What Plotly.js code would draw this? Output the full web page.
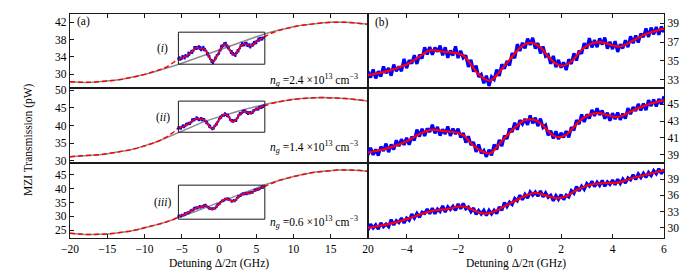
<!DOCTYPE html>
<html><head><meta charset="utf-8">
<script src="https://cdn.plot.ly/plotly-3.0.1.min.js"></script>
<style>html,body{margin:0;padding:0;background:#fff}</style>
</head><body><div id="plot" style="width:700px;height:280px"></div>
<script>
// ---- detuning grids (GHz) ----
const detWide = [-20,-19,-18,-17,-16,-15,-14,-13,-12,-11,-10,-9,-8,-7,-6,-5,-4,-3,-2,-1,0,1,2,3,4,5,6,7,8,9,10,11,12,13,14,15,16,17,18,19,20];
const detDash = [-20,-19,-18,-17,-16,-15,-14,-13,-12,-11,-10,-9,-8,-7,-6,-5.5,null,6,7,8,9,10,11,12,13,14,15,16,17,18,19,20];
const detFit = [-5.5,-5.25,-5,-4.75,-4.5,-4.25,-4,-3.75,-3.5,-3.25,-3,-2.75,-2.5,-2.25,-2,-1.75,-1.5,-1.25,-1,-0.75,-0.5,-0.25,0,0.25,0.5,0.75,1,1.25,1.5,1.75,2,2.25,2.5,2.75,3,3.25,3.5,3.75,4,4.25,4.5,4.75,5,5.25,5.5,5.75,6];
const detData = [-5.5,-5.4,-5.3,-5.2,-5.1,-5,-4.9,-4.8,-4.7,-4.6,-4.5,-4.4,-4.3,-4.2,-4.1,-4,-3.9,-3.8,-3.7,-3.6,-3.5,-3.4,-3.3,-3.2,-3.1,-3,-2.9,-2.8,-2.7,-2.6,-2.5,-2.4,-2.3,-2.2,-2.1,-2,-1.9,-1.8,-1.7,-1.6,-1.5,-1.4,-1.3,-1.2,-1.1,-1,-0.9,-0.8,-0.7,-0.6,-0.5,-0.4,-0.3,-0.2,-0.1,0,0.1,0.2,0.3,0.4,0.5,0.6,0.7,0.8,0.9,1,1.1,1.2,1.3,1.4,1.5,1.6,1.7,1.8,1.9,2,2.1,2.2,2.3,2.4,2.5,2.6,2.7,2.8,2.9,3,3.1,3.2,3.3,3.4,3.5,3.6,3.7,3.8,3.9,4,4.1,4.2,4.3,4.4,4.5,4.6,4.7,4.8,4.9,5,5.1,5.2,5.3,5.4,5.5,5.6,5.7,5.8,5.9,6];

// ---- background models (grey) ----
const grey1 = [28.22,28.13,28.1,28.13,28.22,28.37,28.57,28.83,29.14,29.5,29.91,30.37,30.86,31.39,31.95,32.54,33.15,33.77,34.41,35.05,35.69,36.33,36.95,37.56,38.15,38.71,39.24,39.73,40.19,40.6,40.96,41.27,41.53,41.73,41.88,41.97,42.0,41.97,41.88,41.73,41.53];
const grey2 = [31.2,31.3,31.4,31.55,31.75,32.0,32.3,32.65,33.1,33.6,34.2,34.9,35.7,36.6,37.6,38.6,39.5,40.3,41.1,41.8,42.5,43.1,43.7,44.3,44.9,45.4,45.9,46.35,46.75,47.1,47.4,47.6,47.78,47.88,47.9,47.85,47.75,47.6,47.4,47.15,46.9];
const grey3 = [23.9,23.65,23.5,23.45,23.5,23.65,23.9,24.24,24.67,25.2,25.81,26.5,27.26,28.09,28.98,29.92,30.91,31.93,32.98,34.05,35.13,36.2,37.27,38.32,39.34,40.33,41.27,42.16,42.99,43.74,44.44,45.05,45.58,46.02,46.35,46.6,46.75,46.8,46.75,46.6,46.35];

// ---- full fits (red dashed, outside the zoomed window) ----
const dash1 = [28.22,28.13,28.1,28.13,28.22,28.37,28.57,28.83,29.14,29.5,29.95,30.45,31.0,31.65,32.75,33.47,null,38.5,39.45,40.1,40.6,40.96,41.27,41.53,41.73,41.88,41.97,42.0,41.97,41.88,41.73,41.53];
const dash2 = [31.2,31.3,31.4,31.55,31.75,32.0,32.3,32.65,33.1,33.6,34.2,34.9,35.7,36.8,38.3,39.25,null,45.47,46.2,46.7,47.1,47.4,47.6,47.78,47.88,47.9,47.85,47.75,47.6,47.4,47.15,46.9];
const dash3 = [23.9,23.65,23.5,23.45,23.5,23.65,23.9,24.24,24.67,25.2,25.81,26.5,27.26,28.09,28.98,29.93,null,40.68,41.95,42.95,43.74,44.44,45.05,45.58,46.02,46.35,46.6,46.75,46.8,46.75,46.6,46.35];

// ---- fits over the zoomed window (red solid) ----
const fit1 = [33.47,33.6,33.73,33.9,34.1,34.35,34.62,35.0,35.45,35.95,36.15,36.05,35.95,35.9,35.8,35.45,34.6,33.7,33.1,32.88,33.45,34.3,35.1,35.95,36.62,36.92,36.8,36.3,35.45,34.8,34.47,34.65,35.2,36.05,36.6,36.9,37.0,36.85,36.65,36.52,36.7,37.1,37.45,37.8,38.05,38.25,38.44];
const fit2 = [39.25,39.4,39.55,39.75,40.0,40.28,40.6,41.02,41.45,41.8,41.97,41.9,41.78,41.72,41.6,41.2,40.35,39.7,39.3,39.15,39.9,40.8,41.6,42.35,42.95,43.2,43.1,42.6,41.8,41.2,41.1,41.5,42.3,43.1,43.6,43.9,43.95,43.75,43.55,43.5,43.8,44.2,44.55,44.85,45.1,45.3,45.47];
const fit3 = [29.93,30.15,30.38,30.6,30.88,31.2,31.58,31.98,32.4,32.8,33.1,33.28,33.4,33.6,33.92,33.88,33.45,32.95,32.6,32.75,33.2,33.85,34.45,35.05,35.7,36.2,36.45,36.2,35.85,35.55,35.55,35.95,36.7,37.35,37.8,38.1,38.25,38.32,38.35,38.42,38.8,39.2,39.5,39.8,40.1,40.4,40.68];

// ---- measured data (blue) ----
const data1 = [33.87,33.22,34.07,33.13,33.88,33.33,34.4,33.67,34.24,33.42,
34.6,33.9,34.4,33.9,35.21,34.22,35.07,34.72,35.59,34.67,
35.65,35.25,36.45,35.69,36.47,35.65,36.41,35.97,36.63,35.59,
36.45,35.33,36.11,35.58,36.54,35.3,36.06,35.32,35.58,34.34,
35.1,33.84,34.48,33.28,33.54,32.6,33.41,32.32,33.29,33.02,
34.05,33.39,34.63,34.16,34.98,34.5,35.84,35.28,36.78,36.05,
36.92,36.34,37.36,36.7,37.45,36.3,36.9,35.8,36.53,35.49,
35.65,34.69,35.53,34.33,35.1,34.27,34.84,34.01,35.16,34.68,
35.8,35.04,36.08,35.76,36.88,36.3,37.42,36.44,37.22,36.46,
37.4,36.74,37.48,36.31,37.03,36.25,37.1,35.95,36.76,36.33,
37.2,36.46,37.62,36.87,37.71,36.95,37.89,37.53,38.45,37.55,
38.55,37.83,38.61,37.79,38.66,38.04];
const data2 = [38.95,39.81,38.97,39.63,38.89,39.95,39.43,40.31,39.3,40.2,
39.6,40.71,40.02,40.84,40.17,41.0,40.17,41.14,40.71,41.98,
41.15,42.09,41.23,42.13,41.7,42.57,41.54,42.31,41.28,42.03,
41.48,42.36,41.23,42.1,41.45,42.1,41.04,41.58,40.43,41.19,
40.15,40.49,39.33,40.22,39.16,39.5,38.74,39.58,38.9,40.2,
39.6,40.76,40.02,41.26,40.88,42.1,41.7,42.8,41.97,43.11,
42.65,43.25,42.55,43.68,42.74,43.4,42.4,43.3,42.24,42.52,
41.3,41.86,40.92,41.78,40.84,41.6,41.06,41.82,41.06,42.28,
41.9,43.12,42.64,43.8,42.9,43.8,43.32,44.34,43.61,44.53,
43.75,44.27,43.29,44.01,43.03,43.95,43.23,44.01,43.16,43.88,
43.3,44.56,43.82,44.67,44.21,45.05,44.27,45.09,44.3,45.5,
44.8,45.58,44.76,45.64,45.01,45.97];
const data3 = [29.53,30.62,29.91,30.5,29.69,30.88,30.17,30.66,30.16,31.47,
30.48,31.31,30.94,31.78,30.83,31.78,31.34,32.5,31.76,32.63,
31.9,32.86,32.62,33.46,32.58,33.6,32.57,33.44,33.0,34.05,
32.9,33.88,33.36,33.96,33.19,34.42,33.5,34.49,33.49,33.82,
32.95,33.65,32.45,33.18,32.54,33.2,32.26,33.22,32.54,33.22,
32.6,33.86,33.22,34.67,33.91,34.75,34.29,35.43,34.98,36.04,
35.2,36.2,35.5,36.65,36.05,36.65,35.85,36.85,35.73,36.49,
35.65,36.03,35.01,35.95,35.25,36.15,35.21,36.07,35.7,36.9,
36.4,37.66,36.82,37.74,37.12,38.2,37.72,38.64,37.63,38.49,
37.85,38.78,37.71,38.53,38.04,38.85,37.98,39.01,38.2,39.05,
38.3,39.26,38.92,39.86,38.98,40.0,39.32,40.14,39.36,40.28,
39.7,40.62,40.04,40.96,40.07,40.88];

// ---- axis ranges, ticks, labels ----
const wideRange = [-20, 20];
const zoomRange = [-5.5, 6];
const wideTicks = [-20,-15,-10,-5,0,5,10,15,20];
const zoomTicks = [-4,-2,0,2,4,6];
const leftRanges = [[26.8,43.9],[29.4,50.6],[22.2,49.3]];
const rightRanges = [[32.1,40.0],[38.0,46.95],[28.05,42.05]];
const leftTicks = [[30,34,38,42],[30,35,40,45,50],[25,30,35,40,45]];
const rightTicks = [[33,35,37,39],[39,41,43,45],[30,33,36,39]];
const boxX = [-5.45, 6.15];
const boxY = [[32.3,39.7],[38.1,46.9],[29.0,41.3]];
const curveLabels = ['(<i>i</i>)','(<i>ii</i>)','(<i>iii</i>)'];
const densities = ['2.4','1.4','0.6'];
const panelLetters = ['(a)','(b)'];

const greys = [grey1, grey2, grey3];
const dashes = [dash1, dash2, dash3];
const fits = [fit1, fit2, fit3];
const datas = [data1, data2, data3];

const BLUE = '#0000ff', RED = '#ff0000', GREY = '#8c8c8c';
const traces = [];
const rowDomains = [[0.6696,1],[0.3348,0.6696],[0,0.3348]];
const split = 0.5017;
const layout = {
  width:700, height:280,
  margin:{l:70, r:36, t:14, b:42},
  paper_bgcolor:'#fff', plot_bgcolor:'#fff',
  showlegend:false,
  font:{family:'Liberation Serif, Times New Roman, serif', size:11.5, color:'#000'},
  annotations:[], shapes:[]
};

for (let r = 0; r < 3; r++) {
  const li = 2*r + 1, ri = 2*r + 2;
  const lx = 'x' + (li === 1 ? '' : li), ly = 'y' + (li === 1 ? '' : li);
  const rx = 'x' + ri, ry = 'y' + ri;
  // left: wide view
  traces.push({x:detWide, y:greys[r], xaxis:lx, yaxis:ly, mode:'lines', line:{color:GREY, width:1.5}, hoverinfo:'skip'});
  traces.push({x:detDash, y:dashes[r], xaxis:lx, yaxis:ly, mode:'lines', connectgaps:false, line:{color:RED, width:1.5, dash:'5px,3px'}, hoverinfo:'skip'});
  traces.push({x:detData, y:datas[r], xaxis:lx, yaxis:ly, mode:'lines', line:{color:BLUE, width:1.9}, hoverinfo:'skip'});
  traces.push({x:detFit, y:fits[r], xaxis:lx, yaxis:ly, mode:'lines', line:{color:RED, width:1.5, shape:'spline'}, hoverinfo:'skip'});
  // right: zoomed view
  traces.push({x:detData, y:datas[r], xaxis:rx, yaxis:ry, mode:'lines', line:{color:BLUE, width:3.2}, hoverinfo:'skip'});
  traces.push({x:detFit, y:fits[r], xaxis:rx, yaxis:ry, mode:'lines', line:{color:RED, width:2.2, shape:'spline'}, hoverinfo:'skip'});

  const common = {showgrid:false, zeroline:false, showline:true, linecolor:'#1a1a1a', linewidth:1.3,
                  mirror:true, ticks:'inside', ticklen:4, tickwidth:1, tickcolor:'#1a1a1a'};
  const bottom = (r === 2);
  layout[(li===1?'xaxis':'xaxis'+li)] = Object.assign({}, common, {
    domain:[0, split], range:wideRange, anchor:ly, tickmode:'array', tickvals:wideTicks,
    ticktext: wideTicks.map(v => v < 0 ? '\u2212' + Math.abs(v) : String(v)),
    side: r === 0 ? 'top' : 'bottom', showticklabels: bottom, ticks: (r === 1 ? '' : 'inside'),
    tickfont:{size:11.5}});
  layout[(li===1?'yaxis':'yaxis'+li)] = Object.assign({}, common, {
    domain:rowDomains[r], range:leftRanges[r], anchor:lx, tickmode:'array', tickvals:leftTicks[r],
    tickfont:{size:11.5}});
  layout['xaxis'+ri] = Object.assign({}, common, {
    domain:[split, 1], range:zoomRange, anchor:ry, tickmode:'array', tickvals:zoomTicks,
    ticktext: zoomTicks.map(v => v < 0 ? '\u2212' + Math.abs(v) : String(v)),
    side: r === 0 ? 'top' : 'bottom', showticklabels: bottom, ticks: (r === 1 ? '' : 'inside'),
    tickfont:{size:11.5}});
  layout['yaxis'+ri] = Object.assign({}, common, {
    domain:rowDomains[r], range:rightRanges[r], anchor:rx, side:'right', tickmode:'array', tickvals:rightTicks[r],
    tickfont:{size:11.5}});

  layout.shapes.push({type:'rect', xref:lx, yref:ly, x0:boxX[0], x1:boxX[1], y0:boxY[r][0], y1:boxY[r][1],
                      line:{color:'#1a1a1a', width:1}, layer:'above'});
}

// text labels (positions in data units of each panel)
const A = layout.annotations;
A.push({xref:'x', yref:'y', x:-19.3, y:42.1, text:panelLetters[0], showarrow:false, xanchor:'left', yanchor:'middle', font:{size:11.5}});
A.push({xref:'x2', yref:'y2', x:-5.3, y:39.05, text:panelLetters[1], showarrow:false, xanchor:'left', yanchor:'middle', font:{size:11.5}});
const labPos = [['x','y',-6.6,36.0,18.9,28.6],['x3','y3',-6.3,42.4,18.9,33.9],['x5','y5',-6.2,34.9,18.9,28.0]];
for (let r = 0; r < 3; r++) {
  const p = labPos[r];
  A.push({xref:p[0], yref:p[1], x:p[2], y:p[3], text:curveLabels[r], showarrow:false, xanchor:'right', yanchor:'middle', font:{size:11.5}});
  A.push({xref:p[0], yref:p[1], x:p[4], y:p[5], showarrow:false, xanchor:'right', yanchor:'middle', font:{size:11.5},
          text:'<i>n</i><sub><i>g</i></sub> =' + densities[r] + ' \u00d710<sup>13</sup> cm<sup>\u22123</sup>'});
}
A.push({xref:'paper', yref:'paper', x:-0.0707, y:0.4375, text:'MZI Transmission (pW)', textangle:-90, showarrow:false, xanchor:'center', yanchor:'middle', font:{size:11.5}});
A.push({xref:'paper', yref:'paper', x:0.2508, y:-0.116, text:'Detuning \u0394/2\u03c0 (GHz)', showarrow:false, xanchor:'center', yanchor:'middle', font:{size:11.5}});
A.push({xref:'paper', yref:'paper', x:0.7508, y:-0.116, text:'Detuning \u0394/2\u03c0 (GHz)', showarrow:false, xanchor:'center', yanchor:'middle', font:{size:11.5}});

Plotly.newPlot('plot', traces, layout, {staticPlot:true, displayModeBar:false});
</script>
</body></html>
